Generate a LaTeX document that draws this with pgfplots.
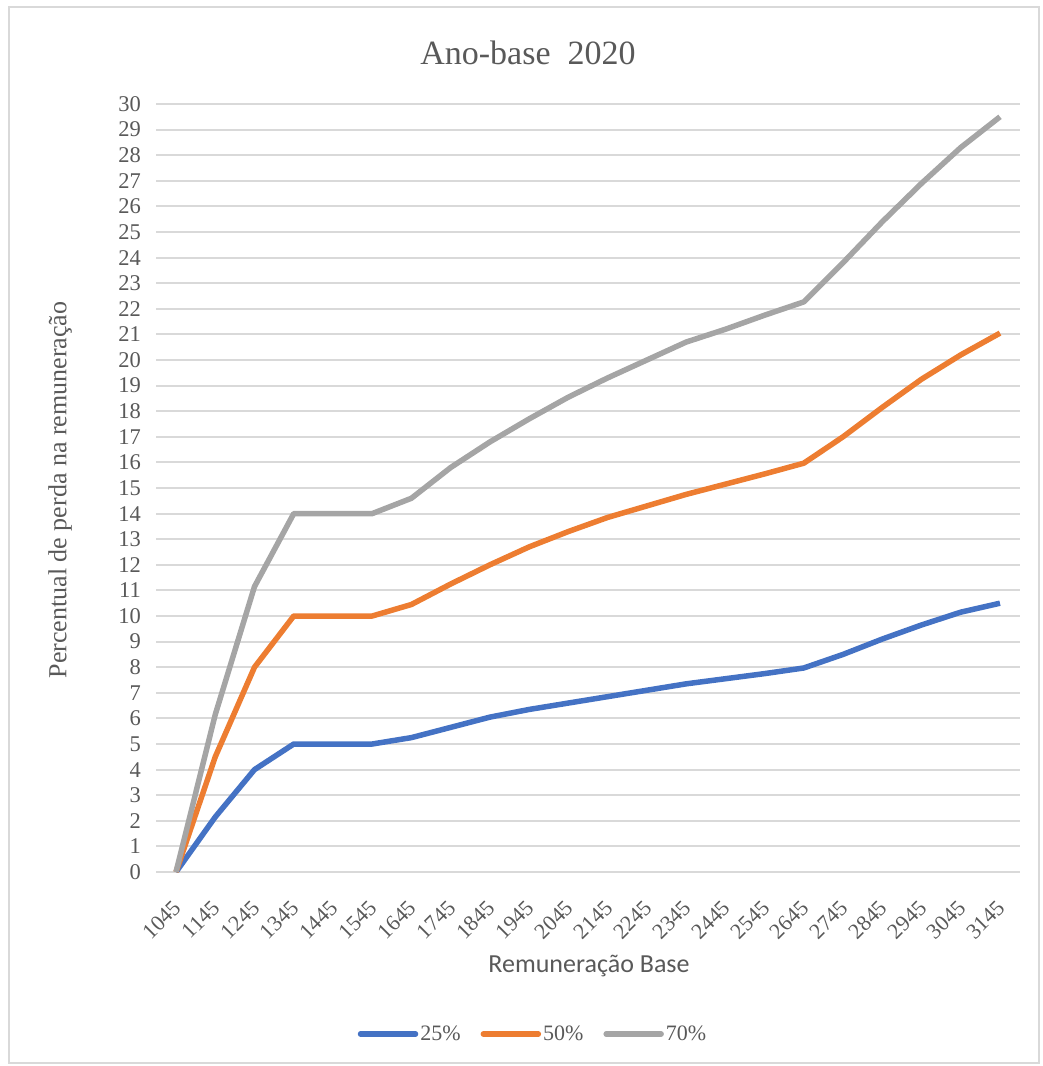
\documentclass[border=0pt]{standalone}
\usepackage{pgfplots}
\pgfplotsset{compat=1.18}
\usepackage{fontspec}
\setmainfont{Liberation Serif}
\newfontfamily\calib{Carlito}
\definecolor{cblue}{HTML}{4472C4}
\definecolor{corange}{HTML}{ED7D31}
\definecolor{cgray}{HTML}{A5A5A5}
\definecolor{cgrid}{HTML}{D9D9D9}
\definecolor{ctext}{HTML}{595959}
\begin{document}
\begin{tikzpicture}
\path[use as bounding box] (0pt,0pt) rectangle (1042pt,-1066pt);
\draw[cgrid, line width=2pt] (9pt,-7pt) rectangle (1039pt,-1063pt);
\node[ctext, font=\fontsize{34}{40}\selectfont] at (528pt,-53pt) {Ano-base\ \ 2020};
\node[ctext, rotate=90, font=\fontsize{26}{30}\selectfont] at (60pt,-490pt) {Percentual de perda na remuneração};
\node[ctext, font=\calib\fontsize{26}{30}\selectfont] at (589pt,-966pt) {Remuneração Base};
\begin{axis}[
  at={(156.4pt,-872pt)}, anchor=south west,
  width=863.2pt, height=768pt, scale only axis,
  xmin=-0.5, xmax=21.5, ymin=0, ymax=30,
  xtick={0,...,21},
  xticklabels={1045,1145,1245,1345,1445,1545,1645,1745,1845,1945,2045,2145,2245,2345,2445,2545,2645,2745,2845,2945,3045,3145},
  ytick={0,...,30},
  ymajorgrids, major grid style={cgrid, line width=2pt},
  axis line style={draw=none}, tick style={draw=none},
  /pgf/number format/assume math mode=true,
  yticklabel style={font=\fontsize{22.5}{26}\selectfont, text=ctext, xshift=-12pt},
  xticklabel style={font=\fontsize{22}{26}\selectfont, text=ctext, xshift=-4pt, yshift=-22pt, rotate=45, anchor=north east},
  legend columns=3,
  legend style={at={(0.4363,-0.2109)}, anchor=center, draw=none, fill=none,
    font=\fontsize{22}{26}\selectfont, text=ctext,
    /tikz/every even column/.append style={column sep=18pt},
    inner sep=0pt},
  legend image code/.code={\draw[#1, line cap=round] (0pt,0pt) -- (55pt,0pt);},
]
\addplot[cblue, line width=5.5pt, line join=round] coordinates {
(0,0) (1,2.15) (2,4) (3,5) (4,5) (5,5) (6,5.25) (7,5.65) (8,6.05) (9,6.35) (10,6.6) (11,6.85) (12,7.1) (13,7.35) (14,7.55) (15,7.75) (16,7.97) (17,8.5) (18,9.1) (19,9.65) (20,10.15) (21,10.5)};
\addlegendentry{25\%}
\addplot[corange, line width=5.5pt, line join=round] coordinates {
(0,0) (1,4.5) (2,8) (3,10) (4,10) (5,10) (6,10.45) (7,11.25) (8,12.0) (9,12.7) (10,13.3) (11,13.85) (12,14.3) (13,14.75) (14,15.15) (15,15.55) (16,15.97) (17,17.0) (18,18.15) (19,19.25) (20,20.2) (21,21.05)};
\addlegendentry{50\%}
\addplot[cgray, line width=5.5pt, line join=round] coordinates {
(0,0) (1,6.15) (2,11.15) (3,14) (4,14) (5,14) (6,14.6) (7,15.8) (8,16.8) (9,17.7) (10,18.55) (11,19.3) (12,20.0) (13,20.7) (14,21.2) (15,21.75) (16,22.27) (17,23.8) (18,25.4) (19,26.9) (20,28.3) (21,29.5)};
\addlegendentry{70\%}
\end{axis}
\end{tikzpicture}
\end{document}
